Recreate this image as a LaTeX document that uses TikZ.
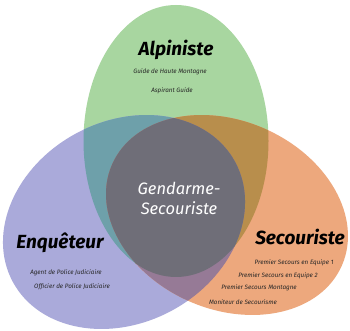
\documentclass[tikz,border=0pt]{standalone}
\usepackage{fontspec}
\setmainfont{Fira Sans}
\definecolor{cgreen}{RGB}{168,214,160}
\definecolor{cblue}{RGB}{170,170,218}
\definecolor{corange}{RGB}{237,168,125}
\definecolor{cteal}{RGB}{110,160,170}
\definecolor{cbrown}{RGB}{184,142,76}
\definecolor{cpurple}{RGB}{150,122,150}
\definecolor{cgray}{RGB}{111,110,120}
\newcommand\gpath{(176,190) ellipse [x radius=92.5, y radius=136]}
\newcommand\bpath{(124,109) ellipse [x radius=126.3, y radius=100.7]}
\newcommand\opath{(227,116) ellipse [x radius=125.5, y radius=94.2]}
\tikzset{
  brot/.style={rotate around={28.3:(124,109)}},
  orot/.style={rotate around={-23.8:(227,116)}},
  title/.style={font=\fontsize{19}{21}\selectfont\bfseries\itshape, text=black, inner sep=0pt},
  sub/.style={font=\fontsize{6.3}{7}\selectfont\itshape, text=black!85, inner sep=0pt},
  centre/.style={font=\fontsize{16.5}{18}\selectfont\itshape, text=white, inner sep=0pt}
}
\begin{document}
\begin{tikzpicture}[x=1pt,y=1pt]
\useasboundingbox (0,0) rectangle (350,331);
\fill[white] (0,0) rectangle (350,331);
% base sets
\fill[cgreen] \gpath;
\fill[cblue, brot] \bpath;
\fill[corange, orot] \opath;
% pairwise overlaps
\begin{scope}
  \clip \gpath;
  \fill[cteal, brot] \bpath;
  \fill[cbrown, orot] \opath;
\end{scope}
\begin{scope}
  \clip[brot] \bpath;
  \fill[cpurple, orot] \opath;
  \clip \gpath;
  \fill[cgray, orot] \opath;
\end{scope}
% labels
\node[title] (alp) at (176,281) {Alpiniste};
\node[sub] (alp1) at (170,259) {Guide de Haute Montagne};
\node[sub] (alp2) at (172,240) {Aspirant Guide};
\node[centre] (gs1) at (179,143) {Gendarme-};
\node[centre] (gs2) at (179,123) {Secouriste};
\node[title] (enq) at (60,88) {Enquêteur};
\node[sub] (enq1) at (66,58) {Agent de Police Judiciaire};
\node[sub] (enq2) at (72,44) {Officier de Police Judiciaire};
\node[title] (sec) at (300,94) {Secouriste};
\node[sub] (sec1) at (294,68) {Premier Secours en Equipe 1};
\node[sub] (sec2) at (278,55) {Premier Secours en Equipe 2};
\node[sub] (sec3) at (259,43) {Premier Secours Montagne};
\node[sub] (sec4) at (243,29) {Moniteur de Secourisme};
\end{tikzpicture}
\end{document}
